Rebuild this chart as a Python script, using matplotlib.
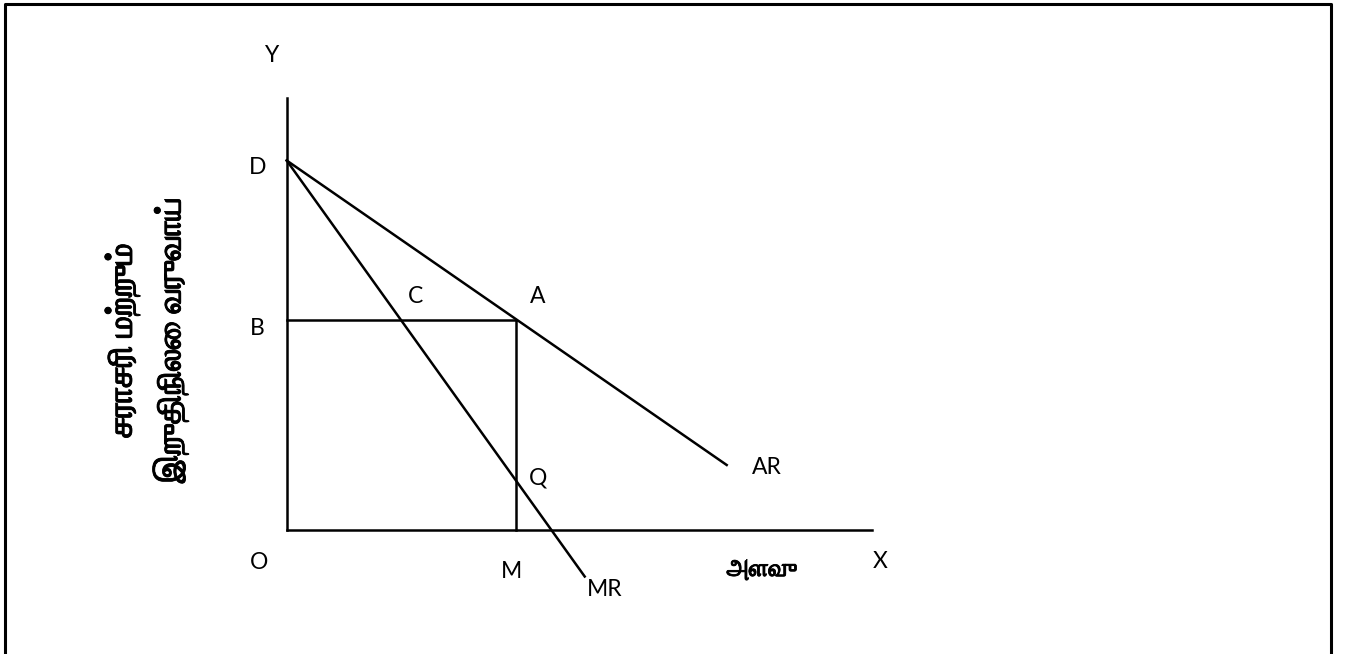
import matplotlib
matplotlib.use("Agg")
import matplotlib.pyplot as plt
import matplotlib.patheffects as pe
from matplotlib import font_manager as fm

# ---- data (economic coordinates, origin O at (0,0)) ----
axis_x_end = 585.0          # length of the X axis
axis_y_end = 432.0          # length of the Y axis
d_price = 369.0             # D: intercept of AR and MR on Y axis
ar_end = (440.0, 64.5)      # end of AR line
mr_end = (298.0, -47.0)     # end of MR line
a_point = (229.5, 209.5)    # A: equilibrium on AR (output OM, price OB)

point_labels = ["Y", "D", "B", "C", "A", "Q", "AR", "O", "M", "MR", "X"]
label_x = [-15, -29, -29, 129, 251, 251, 480, -28, 225, 318, 594]
label_y = [474, 362, 201, 233, 233, 52, 62, -33, -42, -60, -32]

y_title_lines = ["சராசரி மற்றும்", "இறுதிநிலை வருவாய்"]
x_title = "அளவு"

# ---- fonts ----
def find_tamil_font():
    try:
        from fontTools.ttLib import TTFont
    except Exception:
        return None
    best = None
    for f in fm.fontManager.ttflist:
        try:
            tt = TTFont(f.fname, fontNumber=0, lazy=True)
            cmap = tt.getBestCmap()
            if cmap and 0x0B85 in cmap and 0x0BB5 in cmap:
                if f.weight in ("bold", 700) or (isinstance(f.weight, int) and f.weight >= 700):
                    return f.name
                best = best or f.name
        except Exception:
            continue
    return best

tamil = find_tamil_font()
latin_font = "Lato"
tamil_family = ([tamil] if tamil else []) + ["Noto Sans", "DejaVu Sans"]
bold_fx = [pe.withStroke(linewidth=0.6, foreground="black")]

# ---- figure: 1347 x 654 px, axes mapped to pixels via offset ----
W, H = 1347, 654
fig = plt.figure(figsize=(W / 100, H / 100), dpi=100)
ax = fig.add_axes([0, 0, 1, 1])
ox, oy = 286.7, 529.5  # pixel position of origin O
ax.set_xlim(-ox, W - ox)
ax.set_ylim(-(H - oy), oy)
ax.axis("off")

lw = 1.8
# frame (open at the bottom)
ax.plot([-ox + 4.5, -ox + 4.5, -ox + 1331, -ox + 1331],
        [-(H - oy) - 5, oy - 3.5, oy - 3.5, -(H - oy) - 5],
        color="black", lw=2.2, solid_capstyle="butt", clip_on=False)

# axes
ax.plot([0, 0], [0, axis_y_end], color="black", lw=lw)
ax.plot([0, axis_x_end], [0, 0], color="black", lw=lw)
# AR and MR
ax.plot([0, ar_end[0]], [d_price, ar_end[1]], color="black", lw=lw)
ax.plot([0, mr_end[0]], [d_price, mr_end[1]], color="black", lw=lw)
# B-A and A-M
ax.plot([0, a_point[0]], [a_point[1], a_point[1]], color="black", lw=lw)
ax.plot([a_point[0], a_point[0]], [a_point[1], 0], color="black", lw=lw)

for t, x, y in zip(point_labels, label_x, label_y):
    ax.text(x, y, t, fontsize=16.5, family=latin_font, ha="center", va="center")

ax.text(475, -41, x_title, fontsize=17.5, family=tamil_family, fontweight="bold",
        ha="center", va="center", path_effects=bold_fx)
ax.text(-164, 189, y_title_lines[0], fontsize=24, family=tamil_family,
        fontweight="bold", rotation=90, ha="center", va="center",
        path_effects=bold_fx)
ax.text(-116, 189, y_title_lines[1], fontsize=23.5, family=tamil_family,
        fontweight="bold", rotation=90, ha="center", va="center",
        path_effects=bold_fx)

fig.savefig("out.png", dpi=100, facecolor="white")
